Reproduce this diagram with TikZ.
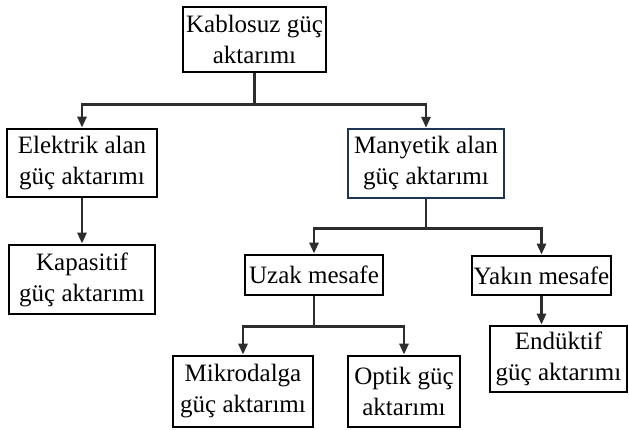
\documentclass[tikz,border=0pt]{standalone}
\usepackage{fontspec}
\setmainfont{Liberation Serif}
\usepackage{tikz}
\usetikzlibrary{arrows.meta}
\definecolor{navyedge}{RGB}{31,53,80}
\definecolor{linegray}{RGB}{45,45,45}

\begin{document}
\begin{tikzpicture}[x=1pt, y=-1pt,
    kutu/.style={draw=black, line width=2.8pt, align=center, inner sep=0pt,
        font=\fontsize{25}{31}\selectfont},
    ok/.style={draw=linegray, line width=2.8pt, -{Triangle[length=11pt,width=9pt]}}]
\useasboundingbox (0,0) rectangle (629,429);
% kutular
\node[kutu, minimum width=143pt, minimum height=65pt] (kablosuz) at (254.5,39.5) {Kablosuz güç\\aktarımı};
\node[kutu, minimum width=150pt, minimum height=68pt] (elektrik) at (82,163) {Elektrik alan\\güç aktarımı};
\node[kutu, draw=navyedge, line width=2.3pt, minimum width=156pt, minimum height=69pt] (manyetik) at (426,163.5) {Manyetik alan\\güç aktarımı};
\node[kutu, minimum width=146pt, minimum height=69pt] (kapasitif) at (82,279.5) {Kapasitif\\güç aktarımı};
\node[kutu, minimum width=138pt, minimum height=40pt] (uzak) at (314,275) {Uzak mesafe};
\node[kutu, minimum width=139pt, minimum height=39pt] (yakin) at (541.5,275.5) {Yakın mesafe};
\node[kutu, minimum width=140pt, minimum height=71pt] (mikro) at (243,391.5) {Mikrodalga\\güç aktarımı};
\node[kutu, minimum width=112pt, minimum height=71pt] (optik) at (404,391.5) {Optik güç\\aktarımı};
\node[kutu, minimum width=137pt, minimum height=66pt] (enduktif) at (558.5,359) {Endüktif\\güç aktarımı};
% oklar
\draw[ok] (kablosuz.south) -- ++(0,31) -| (elektrik.north);
\draw[ok] (kablosuz.south) -- ++(0,31) -| (manyetik.north);
\draw[ok] (elektrik.south) -- (kapasitif.north);
\draw[ok] (manyetik.south) -- ++(0,29) -| (uzak.north);
\draw[ok] (manyetik.south) -- ++(0,29) -| (yakin.north);
\draw[ok] (uzak.south) -- ++(0,30) -| (mikro.north);
\draw[ok] (uzak.south) -- ++(0,30) -| (optik.north);
\draw[ok] (yakin.south) -- (yakin.south |- enduktif.north);
\end{tikzpicture}
\end{document}
